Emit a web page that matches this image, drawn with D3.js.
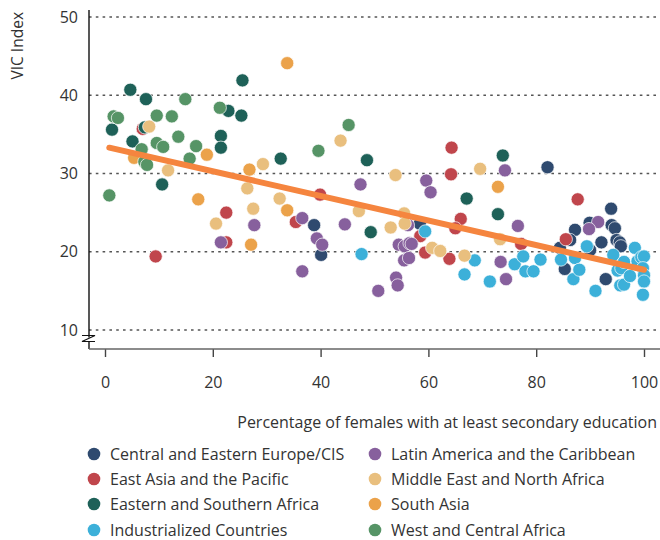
<!DOCTYPE html>
<html>
<head>
<meta charset="utf-8">
<script src="https://cdn.jsdelivr.net/npm/d3@7"></script>
<style>
  html, body { margin: 0; padding: 0; background: #fff; }
  svg { display: block; font-family: "Open Sans", "Noto Sans", sans-serif; }
</style>
</head>
<body>
<svg id="chart" width="660" height="540"></svg>
<script>
// ---- data ----
const regions = [
  "Central and Eastern Europe/CIS",
  "East Asia and the Pacific",
  "Eastern and Southern Africa",
  "Industrialized Countries",
  "Latin America and the Caribbean",
  "Middle East and North Africa",
  "South Asia",
  "West and Central Africa"
];
const regionColors = ["#2f4a6f", "#c0464c", "#1e6158", "#3cb0d9", "#87609d", "#e9bf7e", "#eba24a", "#569466"];

const ceeCIS = [[82.1,30.8],[93.9,25.5],[89.9,23.7],[94.0,23.4],[94.6,23.0],[87.2,22.8],[86.3,21.5],[84.4,20.5],
  [90.0,20.2],[92.1,21.2],[94.9,21.5],[95.5,21.2],[95.7,20.7],[85.3,17.8],[92.9,16.5],[38.8,23.4],[40.1,19.6],[58.4,23.6]];
const eastAsiaPacific = [[7.0,35.7],[9.4,19.4],[22.5,25.0],[22.5,21.2],[35.4,23.8],[39.9,27.3],[58.5,22.0],[64.3,33.3],
  [64.2,29.9],[66.0,24.2],[65.0,23.0],[63.9,19.1],[77.2,21.0],[59.4,19.9],[87.7,26.7],[85.5,21.6]];
const eastSouthAfrica = [[4.7,40.7],[7.6,39.5],[25.5,41.9],[22.9,38.0],[25.3,37.4],[1.3,35.6],[7.4,35.9],[5.1,34.1],
  [21.5,34.8],[21.5,33.3],[10.6,28.6],[32.6,31.9],[48.6,31.7],[49.3,22.5],[67.1,26.8],[72.9,24.8],[73.8,32.3]];
const industrialized = [[47.6,19.7],[59.4,22.6],[66.7,17.1],[68.6,18.9],[71.4,16.2],[76.0,18.4],[77.6,19.4],[78.0,17.5],
  [79.5,17.5],[80.8,19.0],[84.6,19.0],[87.2,19.2],[86.9,16.5],[88.0,17.7],[89.4,20.7],[91.0,15.0],[94.3,19.6],[95.1,17.6],
  [95.8,17.9],[95.6,15.7],[96.3,15.8],[96.3,18.7],[97.4,16.9],[98.3,20.5],[98.8,18.8],[99.5,19.3],[100,19.4],[99.8,17.9],
  [100,17.0],[100,16.2],[99.8,14.5]];
const latinAmerica = [[21.5,21.2],[27.7,23.4],[36.6,24.3],[36.6,17.5],[39.3,21.7],[40.3,20.9],[44.5,23.5],[47.4,28.6],
  [54.5,20.9],[55.6,20.7],[56.5,21.1],[56.9,21.0],[56.2,23.4],[55.5,18.9],[56.4,19.2],[54.0,16.7],[54.3,15.7],[50.7,15.0],
  [59.6,29.1],[60.4,27.6],[74.2,30.4],[76.6,23.3],[73.4,18.7],[74.4,16.5],[91.5,23.8],[89.8,22.9]];
const middleEastNAfrica = [[8.2,36.0],[11.7,30.4],[20.6,23.6],[26.4,28.1],[27.5,25.5],[29.3,31.2],[32.4,26.8],[43.7,34.2],
  [47.1,25.2],[53.0,23.1],[53.9,29.8],[55.5,24.9],[55.6,23.6],[60.7,20.5],[62.2,20.1],[66.7,19.5],[69.6,30.6],[73.3,21.6]];
const southAsia = [[5.4,32.0],[18.9,32.4],[17.3,26.7],[26.8,30.5],[27.1,20.9],[33.8,44.1],[33.8,25.3],[72.9,28.3]];
const westCentralAfrica = [[1.6,37.3],[2.4,37.1],[9.6,37.4],[12.4,37.3],[14.9,39.5],[21.3,38.4],[13.6,34.7],[6.8,33.1],
  [9.6,33.9],[10.8,33.4],[16.9,33.5],[15.7,31.9],[7.3,31.5],[7.8,31.1],[0.8,27.2],[39.6,32.9],[45.2,36.2]];

const seriesValues = [ceeCIS, eastAsiaPacific, eastSouthAfrica, industrialized, latinAmerica, middleEastNAfrica, southAsia, westCentralAfrica];

const xTicks = [0, 20, 40, 60, 80, 100];
const yTicks = [10, 20, 30, 40, 50];
const trendX = [0.8, 100];
const trendY = [33.3, 17.7];
const xTitle = "Percentage of females with at least secondary education";
const yTitle = "VIC Index";

// ---- layout ----
const svg = d3.select("#chart");
const axisLeftX = 89, axisBottomY = 349, plotRight = 660;
const x = d3.scaleLinear().domain([0, 100]).range([105, 644]);
const y = d3.scaleLinear().domain([10, 50]).range([330, 17]);

// gridlines
svg.append("g").selectAll("line").data(yTicks).join("line")
  .attr("x1", axisLeftX).attr("x2", plotRight)
  .attr("y1", d => y(d)).attr("y2", d => y(d))
  .attr("stroke", "#555").attr("stroke-width", 1.4)
  .attr("stroke-dasharray", "2.6,4.2");

// y tick labels
svg.append("g").selectAll("text").data(yTicks).join("text")
  .attr("x", 78).attr("y", d => y(d))
  .attr("dy", "0.35em").attr("text-anchor", "end")
  .attr("font-size", 16).attr("fill", "#333")
  .text(d => d);

// y axis line
svg.append("line").attr("x1", axisLeftX).attr("x2", axisLeftX)
  .attr("y1", 10).attr("y2", axisBottomY)
  .attr("stroke", "#111").attr("stroke-width", 1.4);

// axis break
svg.append("rect").attr("x", axisLeftX - 3).attr("y", 337.5).attr("width", 6).attr("height", 4.5).attr("fill", "#fff");
svg.append("path").attr("d", `M${axisLeftX-7},335.5 L${axisLeftX+6},335.5 L${axisLeftX-7},341.5 L${axisLeftX+6},341.5`)
  .attr("fill", "none").attr("stroke", "#111").attr("stroke-width", 1.2);

// x axis
const xAxis = d3.axisBottom(x).tickValues(xTicks).tickSize(8).tickPadding(20).tickFormat(d3.format("d"));
const gx = svg.append("g").attr("transform", `translate(0,${axisBottomY})`).call(xAxis);
gx.select(".domain").remove();
gx.selectAll(".tick line").attr("stroke", "#444").attr("stroke-width", 1.4);
gx.selectAll(".tick text").attr("font-size", 16).attr("fill", "#333").attr("font-family", "Open Sans, sans-serif");
svg.append("line").attr("x1", axisLeftX).attr("x2", plotRight)
  .attr("y1", axisBottomY).attr("y2", axisBottomY)
  .attr("stroke", "#666").attr("stroke-width", 1.4);

// axis titles
svg.append("text").attr("x", 657).attr("y", 428).attr("text-anchor", "end")
  .attr("font-size", 16).attr("fill", "#333").text(xTitle);
svg.append("text").attr("transform", "translate(23,12) rotate(-90)")
  .attr("text-anchor", "end").attr("font-size", 15.5).attr("fill", "#333").text(yTitle);

// points
const pointsG = svg.append("g");
seriesValues.forEach((vals, i) => {
  pointsG.append("g").selectAll("circle").data(vals).join("circle")
    .attr("cx", d => x(d[0])).attr("cy", d => y(d[1]))
    .attr("r", 6.6)
    .attr("fill", regionColors[i])
    .attr("stroke", "#fff").attr("stroke-width", 0.7);
});

// trend line
const line = d3.line().x(d => x(d[0])).y(d => y(d[1]));
svg.append("path").datum(trendX.map((v, i) => [v, trendY[i]]))
  .attr("d", line).attr("fill", "none")
  .attr("stroke", "#f5853f").attr("stroke-width", 6).attr("stroke-linecap", "round");

// legend
const legendColX = [94, 375];
const legendRowY = [454, 479, 504, 530];
const leg = svg.append("g");
regions.forEach((name, i) => {
  const col = Math.floor(i / 4), row = i % 4;
  const g = leg.append("g").attr("transform", `translate(${legendColX[col]},${legendRowY[row]})`);
  g.append("circle").attr("r", 6.3).attr("fill", regionColors[i]);
  g.append("text").attr("x", 16).attr("dy", "0.35em")
    .attr("font-size", 16).attr("fill", "#333").text(name);
});
</script>
</body>
</html>
